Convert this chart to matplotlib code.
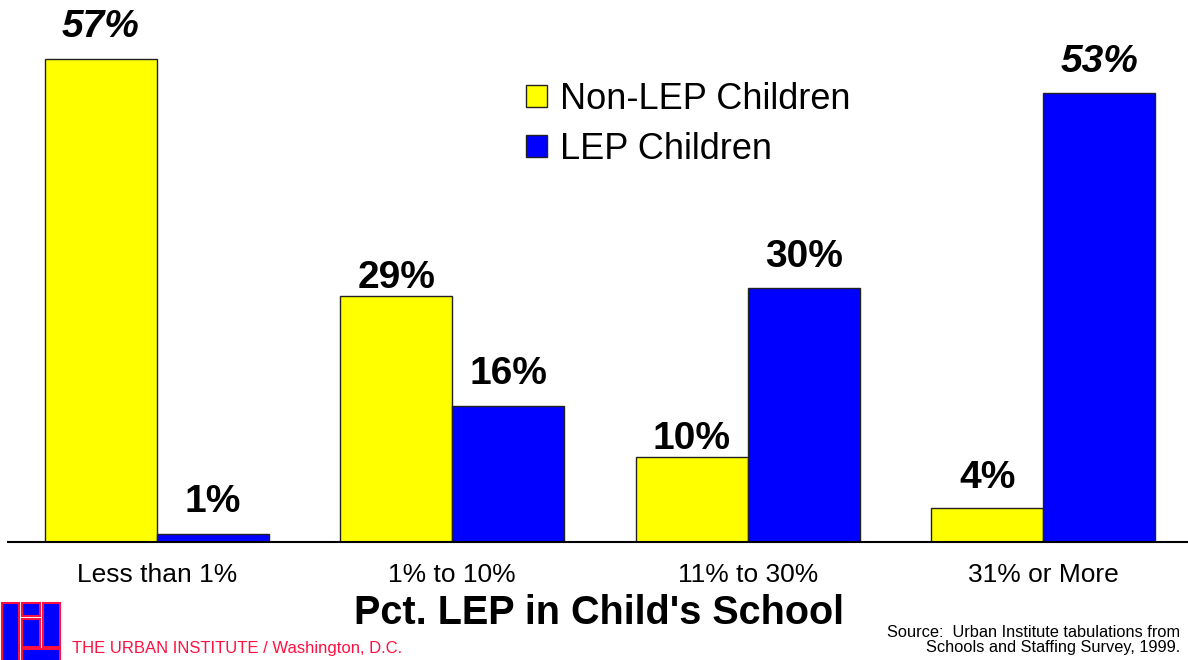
import matplotlib
matplotlib.use("Agg")
from matplotlib import pyplot as plt
from matplotlib.patches import Rectangle
import numpy as np

plt.rcParams['font.family'] = ['Liberation Sans', 'DejaVu Sans']

categories = ["Less than 1%", "1% to 10%", "11% to 30%", "31% or More"]
non_lep = [57, 29, 10, 4]
lep = [1, 16, 30, 53]
series_names = ["Non-LEP Children", "LEP Children"]

fig = plt.figure(figsize=(11.88, 6.6), dpi=100)
ax = fig.add_axes([8 / 1188, 118 / 660, 1180 / 1188, 508.4 / 660])

x = np.arange(len(categories))
w = 112 / 296
b1 = ax.bar(x - w / 2, non_lep, w, color="#FFFF00", edgecolor="#222222", linewidth=1, label=series_names[0])
b2 = ax.bar(x + w / 2, lep, w, color="#0000FF", edgecolor="#222222", linewidth=1, label=series_names[1])

# label offsets in points above bar top (text centre)
off1 = [23, 13, 13, 22]
off2 = [23, 23, 22, 22]
for bars, vals, offs in [(b1, non_lep, off1), (b2, lep, off2)]:
    for r, v, o in zip(bars, vals, offs):
        style = "italic" if v >= 50 else "normal"
        ax.annotate(f"{v}%", (r.get_x() + r.get_width() / 2, v), xytext=(0, o),
                    textcoords="offset points", ha="center", va="center",
                    fontsize=28, fontweight="bold", fontstyle=style)

ax.set_xlim(-149 / 296, 3 + (1188 - 1043) / 296)
ax.set_ylim(0, 60)
ax.set_xticks(x)
ax.set_xticklabels(categories, fontsize=19)
ax.tick_params(axis="x", length=0, pad=15)
ax.set_yticks([])
for s in ["top", "right", "left"]:
    ax.spines[s].set_visible(False)
ax.spines["bottom"].set_linewidth(1.5)

ax.legend(loc="upper left", bbox_to_anchor=(518 / 1180, 1 - (82 - 34) / 508.4),
          frameon=False, fontsize=26, handlelength=0.58, handleheight=0.58,
          handletextpad=0.35, labelspacing=0.42, borderpad=0, borderaxespad=0)

fig.text(599 / 1188, 1 - 613 / 660, "Pct. LEP in Child's School", ha="center", va="center",
         fontsize=28.5, fontweight="bold")
fig.text(72 / 1188, 1 - 648 / 660, "THE URBAN INSTITUTE / Washington, D.C.", ha="left", va="center",
         fontsize=12, color="#FF1040")
fig.text(1180 / 1188, 1 - 640 / 660, "Source:  Urban Institute tabulations from\nSchools and Staffing Survey, 1999.",
         ha="right", va="center", multialignment="right", fontsize=11.8, linespacing=0.95)

# logo blocks (pixel boxes: x0, y0 top, x1, y1 bottom)
logo = [(2, 603, 19, 662), (22, 603, 40, 616), (22, 619, 40, 647), (43, 603, 60, 647), (22, 649, 60, 662)]
for x0, y0, x1, y1 in logo:
    fig.patches.append(Rectangle((x0 / 1188, 1 - y1 / 660), (x1 - x0) / 1188, (y1 - y0) / 660,
                                 transform=fig.transFigure, facecolor="#0000FF",
                                 edgecolor="#FF1040", linewidth=1.5))

fig.savefig("out.png", dpi=100)
